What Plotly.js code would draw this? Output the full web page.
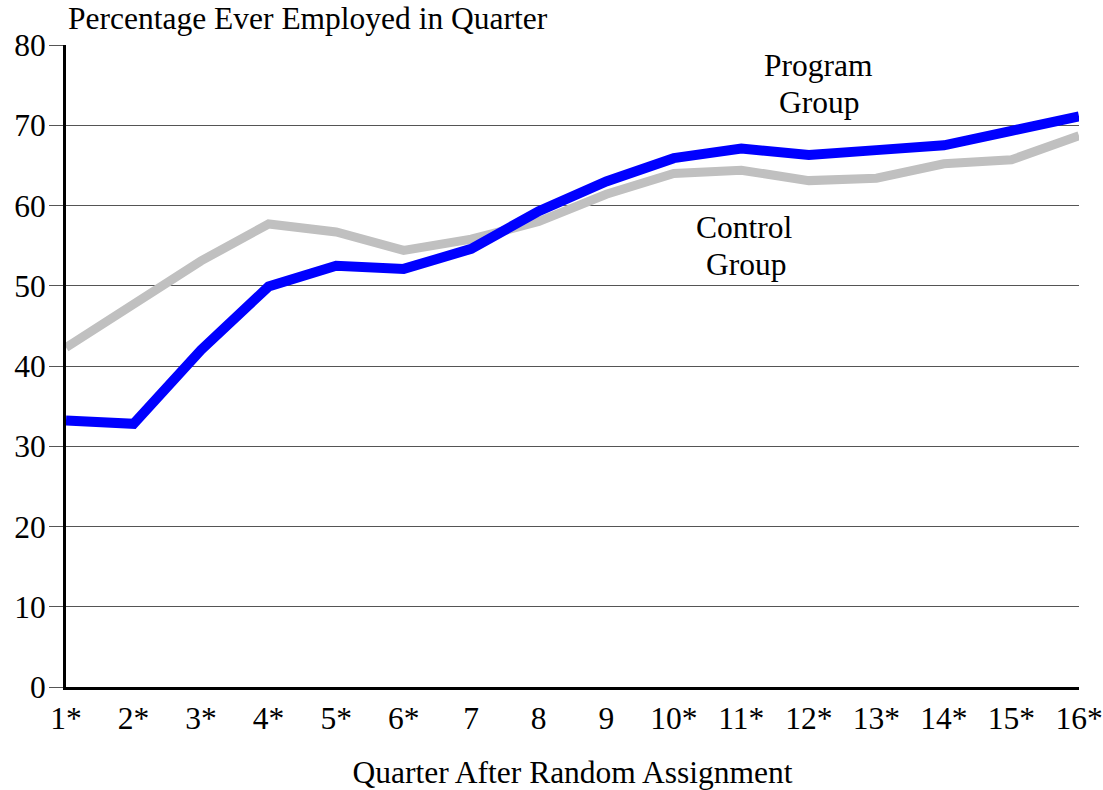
<!DOCTYPE html>
<html>
<head>
<meta charset="utf-8">
<script src="https://cdn.plot.ly/plotly-3.0.1.min.js"></script>
<style>html,body{margin:0;padding:0;background:#fff;}#chart{width:1103px;height:790px;}</style>
</head>
<body>
<div id="chart"></div>
<script>
const quarters = [1,2,3,4,5,6,7,8,9,10,11,12,13,14,15,16];
const quarterLabels = ["1*","2*","3*","4*","5*","6*","7","8","9","10*","11*","12*","13*","14*","15*","16*"];
const programGroup = [33.2,32.8,42.0,49.9,52.5,52.1,54.6,59.3,63.0,65.9,67.1,66.3,66.9,67.5,69.3,71.1];
const controlGroup = [42.3,47.8,53.1,57.7,56.7,54.4,55.8,58.0,61.4,64.0,64.4,63.1,63.4,65.2,65.7,68.7];
const yTicks = [0,10,20,30,40,50,60,70,80];

const FONT = "Liberation Serif, Times New Roman, serif";
const FS = 31.5;

const traces = [
  {x: quarters, y: controlGroup, type: "scatter", mode: "lines", name: "Control Group",
   line: {color: "#c0c0c0", width: 9}, hoverinfo: "skip"},
  {x: quarters, y: programGroup, type: "scatter", mode: "lines", name: "Program Group",
   line: {color: "#0000ff", width: 10}, hoverinfo: "skip"}
];

function lbl(text, x, y) {
  return {text: text, xref: "x", yref: "y", x: x, y: y, xanchor: "center", yanchor: "middle",
          showarrow: false, font: {family: FONT, size: FS, color: "#000"}};
}

const layout = {
  width: 1103, height: 790,
  margin: {l: 66, r: 24, t: 45, b: 103},
  paper_bgcolor: "#ffffff", plot_bgcolor: "#ffffff",
  showlegend: false,
  font: {family: FONT, size: FS, color: "#000"},
  xaxis: {
    range: [1, 16], tickvals: quarters, ticktext: quarterLabels,
    showgrid: false, zeroline: false,
    showline: true, linecolor: "#000", linewidth: 3,
    ticks: "outside", ticklen: 1, tickcolor: "rgba(0,0,0,0)",
    tickfont: {family: FONT, size: FS, color: "#000"},
    title: {text: "Quarter After Random Assignment", font: {family: FONT, size: FS, color: "#000"}, standoff: 36},
    fixedrange: true
  },
  yaxis: {
    range: [0, 80], tickvals: yTicks,
    showgrid: true, gridcolor: "#555", gridwidth: 1,
    zeroline: false,
    showline: true, linecolor: "#000", linewidth: 3,
    ticks: "outside", ticklen: 14, tickcolor: "#555", tickwidth: 1,
    ticklabelstandoff: -3,
    tickfont: {family: FONT, size: FS, color: "#000"},
    fixedrange: true
  },
  annotations: [
    {text: "Percentage Ever Employed in Quarter", xref: "paper", yref: "paper", x: 0, y: 1,
     xanchor: "left", yanchor: "bottom", yshift: 7, showarrow: false,
     font: {family: FONT, size: FS, color: "#000"}},
    lbl("Program", 12.14, 77.4),
    lbl("Group", 12.16, 72.8),
    lbl("Control", 11.05, 57.3),
    lbl("Group", 11.07, 52.6)
  ]
};

Plotly.newPlot("chart", traces, layout, {displayModeBar: false, staticPlot: true});
</script>
</body>
</html>
